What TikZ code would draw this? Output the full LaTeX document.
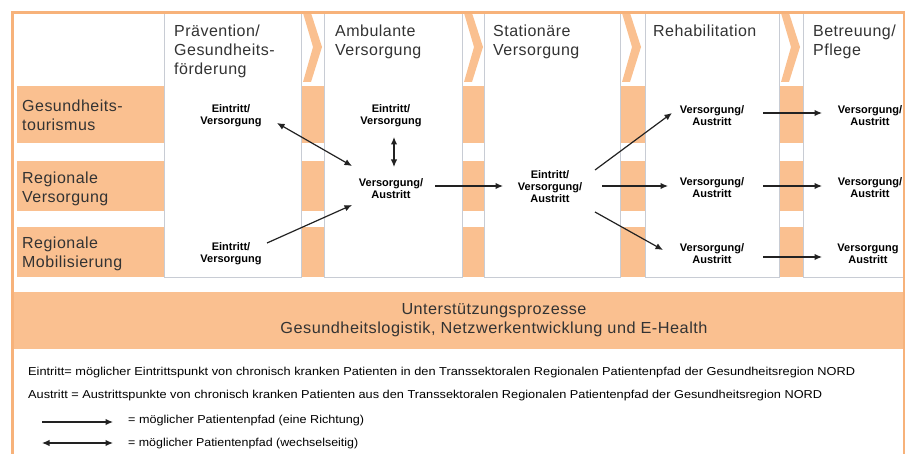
\documentclass[tikz,border=0pt]{standalone}
\usepackage{fontspec}
\setmainfont{Liberation Sans}
\newfontfamily\hdrfont[LetterSpace=3]{Liberation Sans}
\newfontfamily\nodefont{Liberation Sans}
\usetikzlibrary{arrows.meta,calc}
\definecolor{orfill}{HTML}{FAC090}
\definecolor{orframe}{HTML}{F7B27A}
\definecolor{panelgray}{HTML}{C8CCD4}
\definecolor{txtgray}{HTML}{333333}
\definecolor{arrgray}{HTML}{222222}
\newcommand\fitw[2]{\resizebox{#1}{\height}{#2}}
\begin{document}
\begin{tikzpicture}[x=1pt,y=-1pt,
  band/.style={fill=orfill,draw=none},
  panel/.style={fill=white,draw=panelgray,line width=0.8pt},
  chev/.style={fill=orfill,draw=none},
  frame/.style={draw=orframe,line width=2.6pt},
  hdr/.style={anchor=north west,inner sep=0pt,align=left,text=txtgray,font=\hdrfont\fontsize{16}{19}\selectfont},
  lbl/.style={inner sep=0pt,align=center,text=black,font=\nodefont\bfseries\fontsize{11}{12}\selectfont},
  arr/.style={draw=arrgray,line width=1.2pt,-{Latex[length=7.5pt,width=6.5pt]}},
  darr/.style={draw=arrgray,line width=1.2pt,{Latex[length=7.5pt,width=6.5pt]}-{Latex[length=7.5pt,width=6.5pt]}},
  leg/.style={anchor=base west,inner sep=0pt,text=black,font=\nodefont\fontsize{11.5}{12}\selectfont},
  sup/.style={inner sep=0pt,align=center,text=txtgray,font=\hdrfont\fontsize{16}{19}\selectfont}
]
\useasboundingbox (0,0) rectangle (907,454);
\fill[white] (0,0) rectangle (907,454);
% row bands
\path[band] (17,86) rectangle (903,143);
\path[band] (17,161) rectangle (903,211);
\path[band] (17,227) rectangle (903,277);
% chevrons in gaps
\foreach \xr in {301,462,620,779}{
  \path[chev] (\xr+2,13) -- (\xr+10,13) -- (\xr+21,47) -- (\xr+10,82) -- (\xr+2,82) -- (\xr+12,47) -- cycle;
}
% panels
\path[panel] (164,13) rectangle (301,277);
\path[panel] (324,13) rectangle (462,277);
\path[panel] (484,13) rectangle (620,277);
\path[panel] (645,13) rectangle (779,277);
\path[panel] (803,13) rectangle (903,277);
% support box
\path[band] (13,292) rectangle (903,349);
% frame
\draw[frame] (12.5,454) -- (12.5,12.5) -- (904,12.5) -- (904,454);
% headers
\node[hdr] (h1) at (174,25) {Prävention/\\Gesundheits-\\förderung};
\node[hdr] (h2) at (335,25) {Ambulante\\Versorgung};
\node[hdr] (h3) at (493,25) {Stationäre\\Versorgung};
\node[hdr] (h4) at (653,25) {Rehabilitation};
\node[hdr] (h5) at (813,25) {Betreuung/\\Pflege};
% row labels
\node[hdr] (r1) at (22,100) {Gesundheits-\\tourismus};
\node[hdr] (r2) at (22,172) {Regionale\\Versorgung};
\node[hdr] (r3) at (22,237) {Regionale\\Mobilisierung};
% small nodes
\node[lbl] (A1) at (231,116) {Eintritt/\\Versorgung};
\node[lbl] (A3) at (231,254) {Eintritt/\\Versorgung};
\node[lbl] (B1) at (391,116) {Eintritt/\\Versorgung};
\node[lbl] (B2) at (391,189) {Versorgung/\\Austritt};
\node[lbl] (C2) at (550,187) {Eintritt/\\Versorgung/\\Austritt};
\node[lbl] (D1) at (712,116) {Versorgung/\\Austritt};
\node[lbl] (D2) at (712,188) {Versorgung/\\Austritt};
\node[lbl] (D3) at (712,254) {Versorgung/\\Austritt};
\node[lbl] (E1) at (870,116) {Versorgung/\\Austritt};
\node[lbl] (E2) at (870,188) {Versorgung/\\Austritt};
\node[lbl] (E3) at (868,254) {Versorgung\\Austritt};
% arrows
\draw[darr] ($(A1)+(46,7)$) -- ($(B2)+(-39,-23)$);
\draw[arr] ($(A3)+(36,-11)$) -- ($(B2)+(-39,16)$);
\draw[darr] ($(B1)+(3,21)$) -- ($(B2)+(3,-22)$);
\draw[arr] ($(B2)+(44,-3)$) -- ($(C2)+(-47,-1)$);
\draw[arr] ($(C2)+(45,-17)$) -- ($(D1)+(-40,-3)$);
\draw[arr] ($(C2)+(52,-1)$) -- ($(D2)+(-44,-2)$);
\draw[arr] ($(C2)+(45,25)$) -- ($(D3)+(-49,-4)$);
\draw[arr] ($(D1)+(51,-3)$) -- ($(E1)+(-48,-3)$);
\draw[arr] ($(D2)+(51,-2)$) -- ($(E2)+(-48,-2)$);
\draw[arr] ($(D3)+(51,3)$) -- ($(E3)+(-46,3)$);
% support text
\node[sup] (S) at (494,320) {\fitw{185pt}{Unterstützungsprozesse}\\\fitw{427pt}{Gesundheitslogistik, Netzwerkentwicklung und E-Health}};
% legend
\node[leg] (L1) at (28,375) {\fitw{827pt}{Eintritt= möglicher Eintrittspunkt von chronisch kranken Patienten in den Transsektoralen Regionalen Patientenpfad der Gesundheitsregion NORD}};
\node[leg] (L2) at (28,398) {\fitw{794pt}{Austritt = Austrittspunkte von chronisch kranken Patienten aus den Transsektoralen Regionalen Patientenpfad der Gesundheitsregion NORD}};
\coordinate (La) at (42,422);
\coordinate (Lb) at (113,422);
\coordinate (Lc) at (42,443);
\coordinate (Ld) at (113,443);
\draw[arr] (La) -- (Lb);
\draw[darr] (Lc) -- (Ld);
\node[leg] (L3) at (128,423) {\fitw{236pt}{= möglicher Patientenpfad (eine Richtung)}};
\node[leg] (L4) at (128,446) {\fitw{230pt}{= möglicher Patientenpfad (wechselseitig)}};
\end{tikzpicture}
\end{document}
